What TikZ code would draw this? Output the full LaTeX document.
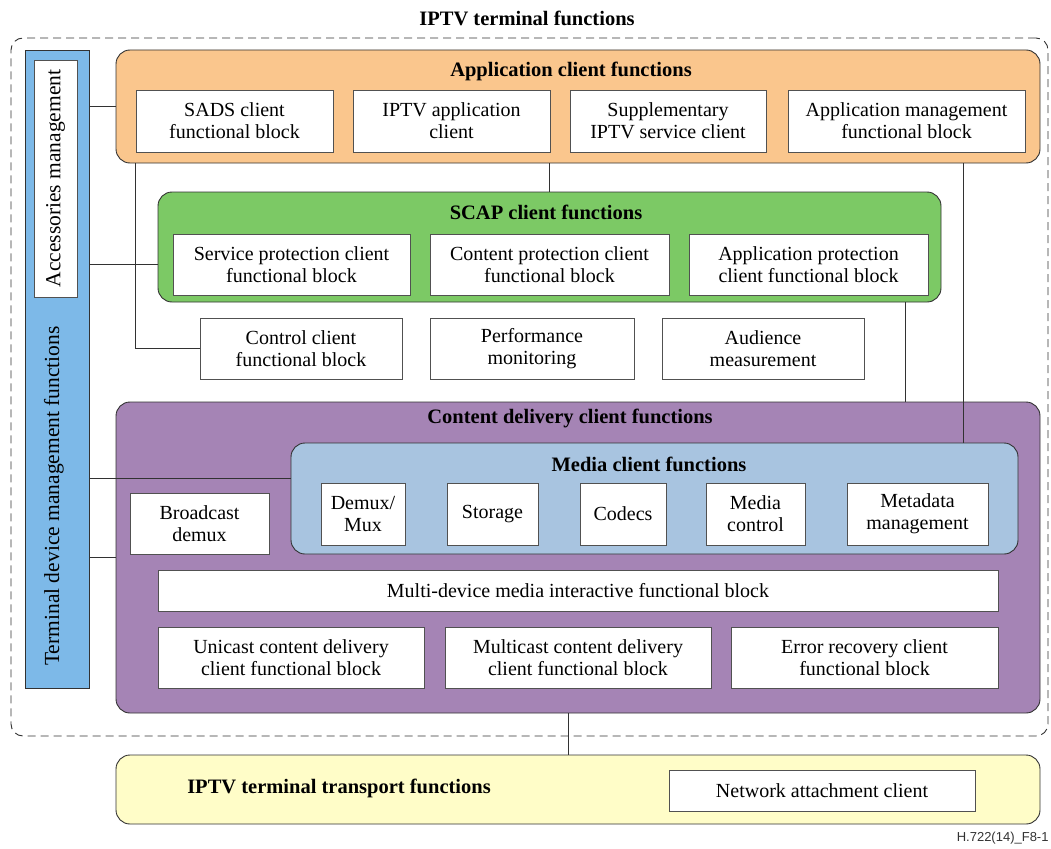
\documentclass[tikz,border=0pt]{standalone}
\usepackage{fontspec}
\setmainfont{Liberation Serif}
\setsansfont{Liberation Sans}
\definecolor{appcol}{RGB}{250,198,141}
\definecolor{scapcol}{RGB}{124,201,101}
\definecolor{tdmcol}{RGB}{125,185,232}
\definecolor{cdelcol}{RGB}{165,132,181}
\definecolor{mediacol}{RGB}{168,196,224}
\definecolor{transcol}{RGB}{255,253,200}
\definecolor{edge}{RGB}{50,50,50}
\begin{document}
\begin{tikzpicture}
  [
  x=1pt, y=-1pt,
  font=\fontsize{20}{22}\selectfont, line width=0.9pt,
  group/.style={rectangle, rounded corners=14pt, draw=edge, inner sep=0pt},
  block/.style={rectangle, draw=edge!85, fill=white, inner sep=0pt, align=center},
  heading/.style={font=\fontsize{20.5}{22}\selectfont\bfseries, inner sep=0pt},
  link/.style={draw=edge, line width=0.8pt},
  ]

\useasboundingbox (0,0) rectangle (1051,848);

\node[heading] (termtitle) at (527,18) {IPTV terminal functions};
\node[rectangle, rounded corners=12pt, draw=edge, dash pattern=on 8pt off 5pt,
  minimum width=1037pt, minimum height=698pt] (term) at (529.5,387) {};

\node[rectangle, draw=edge, fill=tdmcol, minimum width=64pt, minimum height=638pt] (tdm) at (57,369) {};
\node[rotate=90, inner sep=0pt, font=\fontsize{21.5}{22}\selectfont] (tdmtext) at (54,496) {Terminal device management functions};
\node[block, rotate=90, minimum width=237pt, minimum height=43pt, font=\fontsize{21.5}{22}\selectfont] (acc) at (55.5,178.5) {Accessories management};

\node[group, fill=appcol, minimum width=924pt, minimum height=113pt] (app) at (578,106.5) {};
\node[heading] (apptitle) at (571,71) {Application client functions};
\foreach \n/\x/\w/\t in {sads/234.5/197/{SADS client\\functional block},
  iptv/451.5/197/{IPTV application\\client},
  supp/668/196/{Supplementary\\IPTV service client},
  amgmt/906.5/237/{Application management\\functional block}} {
  \node[block, minimum width=\w pt, minimum height=62pt] (\n) at (\x,121) {\t};
}

\node[group, fill=scapcol, minimum width=783pt, minimum height=110pt] (scap) at (549.5,247) {};
\node[heading] (scaptitle) at (546,212) {SCAP client functions};
\foreach \n/\x/\w/\t in {serv/291.5/237/{Service protection client\\functional block},
  cont/549.5/239/{Content protection client\\functional block},
  appp/808.5/239/{Application protection\\client functional block}} {
  \node[block, minimum width=\w pt, minimum height=61pt] (\n) at (\x,264.5) {\t};
}

\foreach \n/\x/\w/\t in {ctrl/301/202/{Control client\\functional block},
  perf/532/204/{Performance\\monitoring},
  aud/763/202/{Audience\\measurement}} {
  \node[block, minimum width=\w pt, minimum height=61pt] (\n) at (\x,348.5) {\t};
}

\node[group, fill=cdelcol, minimum width=924pt, minimum height=311pt] (cdel) at (578,557.5) {};
\node[heading] (cdeltitle) at (570,418) {Content delivery client functions};
\node[group, fill=mediacol, minimum width=727pt, minimum height=111pt] (media) at (654.5,498.5) {};
\node[heading] (mediatitle) at (649,464) {Media client functions};
\foreach \n/\x/\w/\t in {demux/363/84/{Demux/\\Mux},
  stor/492.5/91/{Storage},
  codec/623/86/{Codecs},
  mctl/755.5/99/{Media\\control},
  meta/917.5/141/{Metadata\\management}} {
  \node[block, minimum width=\w pt, minimum height=62pt] (\n) at (\x,514) {\t};
}
\node[block, minimum width=139pt, minimum height=61pt] (bcast) at (199.5,523.5) {Broadcast\\demux};
\node[block, minimum width=840pt, minimum height=41pt] (multi) at (578,590.5) {Multi-device media interactive functional block};
\foreach \n/\x/\w/\t in {uni/291/266/{Unicast content delivery\\client functional block},
  mul/578/266/{Multicast content delivery\\client functional block},
  err/864.5/267/{Error recovery client\\functional block}} {
  \node[block, minimum width=\w pt, minimum height=61pt] (\n) at (\x,657.5) {\t};
}

\node[group, fill=transcol, minimum width=924pt, minimum height=69pt] (trans) at (578,789.5) {};
\node[heading] (transtitle) at (339,788) {IPTV terminal transport functions};
\node[block, minimum width=306pt, minimum height=41pt] (netw) at (822,790.5) {Network attachment client};

\node[anchor=east, inner sep=0pt, font=\sffamily\fontsize{13}{15}\selectfont, text=edge] (figid) at (1049,838) {H.722(14)\_F8-1};

\coordinate (mlink) at ([yshift=20pt]media.west);
\coordinate (c1) at (905,0);
\coordinate (c2) at (963,0);
\coordinate (c3) at (568,0);

\draw[link] (app.west) -- (app.west -| tdm.east);
\draw[link] (serv.west -| scap.west) -- (serv.west -| tdm.east);
\draw[link] (mlink) -- (mlink -| tdm.east);
\draw[link] (cdel.west) -- (cdel.west -| tdm.east);
\draw[link] (scap.north) -- (scap.north |- app.south);
\draw[link] (app.south -| sads.west) |- (ctrl.west);
\draw[link] (scap.south -| c1) -- (cdel.north -| c1);
\draw[link] (app.south -| c2) -- (media.north -| c2);
\draw[link] (cdel.south -| c3) -- (trans.north -| c3);
\end{tikzpicture}
\end{document}
